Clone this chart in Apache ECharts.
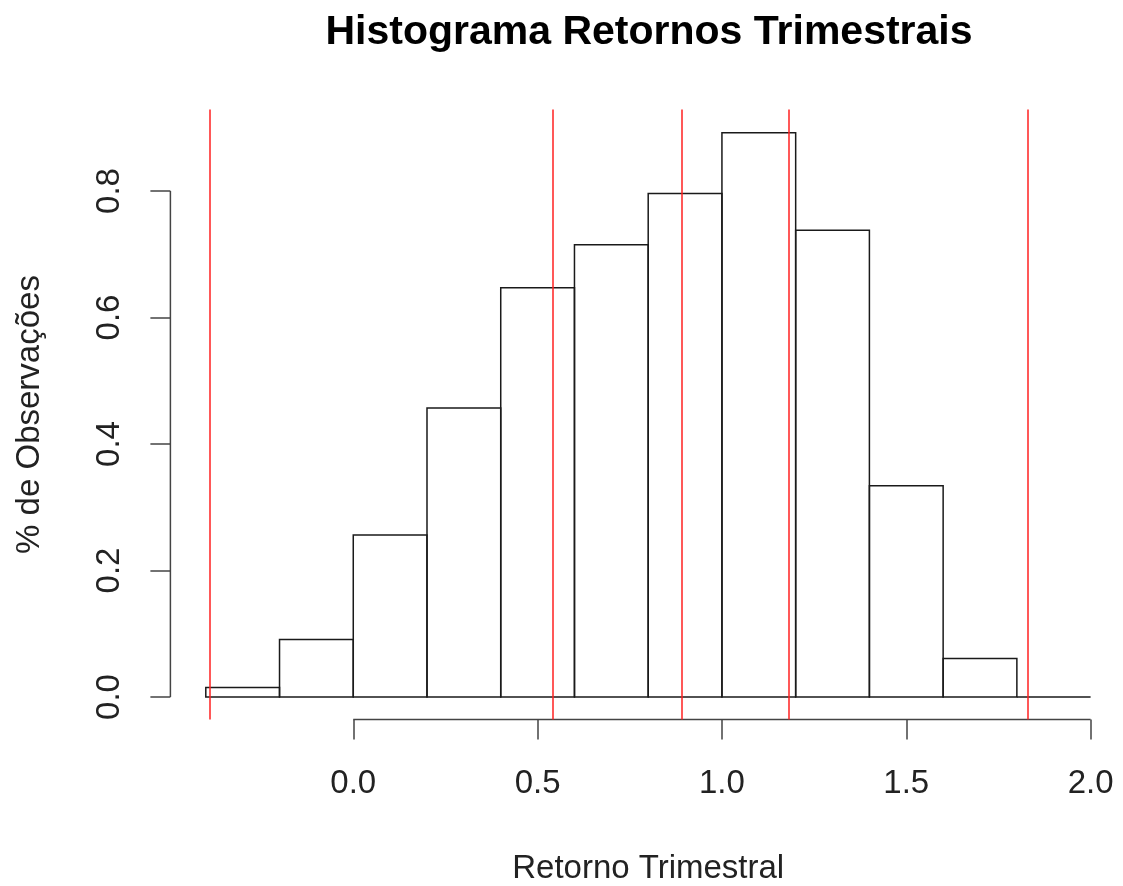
<!DOCTYPE html>
<html>
<head>
<meta charset="utf-8">
<script src="https://cdn.jsdelivr.net/npm/echarts@6/dist/echarts.min.js"></script>
<style>
  html, body { margin: 0; padding: 0; background: #fff; }
  #chart { width: 1123px; height: 886px; }
</style>
</head>
<body>
<div id="chart"></div>
<script>
// histogram bins (edges) and density heights
const binEdges = [-0.4, -0.2, 0.0, 0.2, 0.4, 0.6, 0.8, 1.0, 1.2, 1.4, 1.6, 1.8, 2.0];
const density  = [0.015, 0.091, 0.256, 0.457, 0.647, 0.715, 0.796, 0.892, 0.738, 0.334, 0.061, 0.0];

// red vertical reference lines (abline)
const refLines = [-0.392, 0.539, 0.887, 1.179, 1.831];

const xTicks = [0, 0.5, 1.0, 1.5, 2.0];
const yTicks = [0, 0.2, 0.4, 0.6, 0.8];

// R pads the data range by 4% on each side
const xMin = -0.496, xMax = 2.096;
const yMin = -0.0357, yMax = 0.929;

const FONT = '"Liberation Sans", Arial, Helvetica, sans-serif';
const INK = '#1a1a1a';

const bars = density.map((h, i) => [binEdges[i], binEdges[i + 1], h]);

const chart = echarts.init(document.getElementById('chart'));
chart.setOption({
  backgroundColor: '#fff',
  animation: false,
  title: {
    text: 'Histograma Retornos Trimestrais',
    left: 644,
    top: 7,
    textAlign: 'center',
    textStyle: { fontFamily: FONT, fontSize: 41, fontWeight: 'bold', color: '#000' },
  },
  grid: { left: 170.4, top: 109.4, width: 955.6, height: 610.2, outerBoundsMode: 'none', containLabel: false },
  xAxis: {
    type: 'value',
    min: xMin, max: xMax,
    name: 'Retorno Trimestral',
    nameLocation: 'middle',
    nameGap: 133,
    nameTextStyle: { fontFamily: FONT, fontSize: 33, color: '#222' },
    axisLine: { show: false, onZero: false },
    splitLine: { show: false },
    axisTick: { show: true, length: 20, customValues: xTicks, lineStyle: { color: '#444', width: 1.5 } },
    axisLabel: {
      customValues: xTicks,
      formatter: v => v.toFixed(1),
      margin: 48,
      fontFamily: FONT, fontSize: 33, color: '#222',
    },
  },
  yAxis: {
    type: 'value',
    min: yMin, max: yMax,
    name: '% de Observações',
    nameLocation: 'middle',
    nameRotate: 90,
    nameGap: 124,
    nameTextStyle: { fontFamily: FONT, fontSize: 33, color: '#222' },
    axisLine: { show: false, onZero: false },
    splitLine: { show: false },
    axisTick: { show: true, length: 20, customValues: yTicks, lineStyle: { color: '#444', width: 1.5 } },
    axisLabel: {
      customValues: yTicks,
      formatter: v => v.toFixed(1),
      rotate: 90,
      margin: 44,
      fontFamily: FONT, fontSize: 33, color: '#222',
    },
  },
  series: [
    {
      type: 'custom',
      name: 'hist',
      data: bars,
      renderItem: (params, api) => {
        const p0 = api.coord([api.value(0), 0]);
        const p1 = api.coord([api.value(1), api.value(2)]);
        return {
          type: 'rect',
          shape: { x: p0[0], y: p1[1], width: p1[0] - p0[0], height: p0[1] - p1[1] },
          style: { fill: 'none', stroke: INK, lineWidth: 1.5 },
        };
      },
      z: 2,
    },
    {
      // axis lines that only span the tick range, as R draws them
      type: 'custom',
      name: 'axes',
      data: [[xMin, 0, xMin, yTicks[yTicks.length - 1]], [xTicks[0], yMin, xTicks[xTicks.length - 1], yMin]],
      renderItem: (params, api) => {
        const a = api.coord([api.value(0), api.value(1)]);
        const b = api.coord([api.value(2), api.value(3)]);
        return {
          type: 'line',
          shape: { x1: a[0], y1: a[1], x2: b[0], y2: b[1] },
          style: { stroke: '#444', lineWidth: 1.5 },
        };
      },
      z: 2,
    },
    {
      type: 'line',
      name: 'ref',
      data: [],
      markLine: {
        silent: true,
        symbol: 'none',
        label: { show: false },
        lineStyle: { color: '#ff2020', width: 1.5, type: 'solid' },
        data: refLines.map(v => ({ xAxis: v })),
      },
      z: 5,
    },
  ],
});
</script>
</body>
</html>
